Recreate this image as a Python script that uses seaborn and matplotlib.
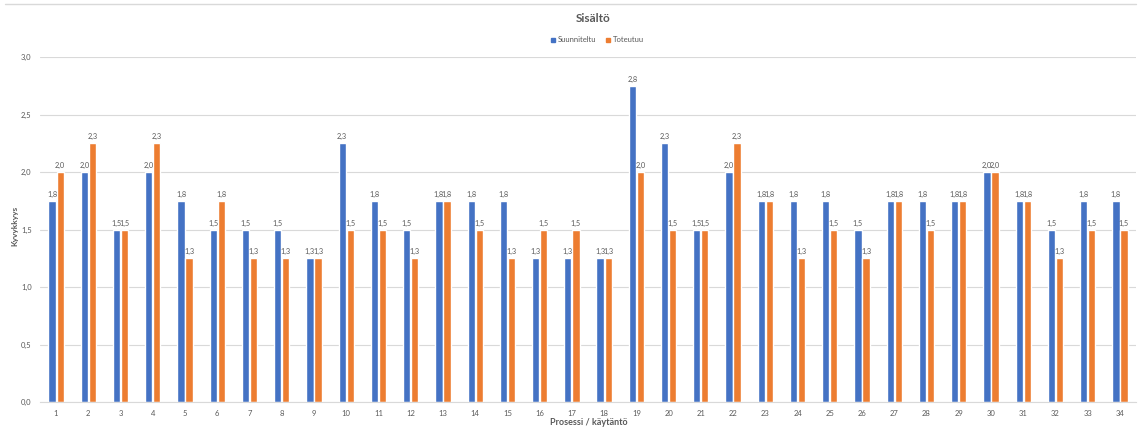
import matplotlib
matplotlib.use("Agg")
import matplotlib.pyplot as plt
from matplotlib.lines import Line2D
from matplotlib.ticker import FuncFormatter
from decimal import Decimal, ROUND_HALF_UP
import seaborn as sns
import pandas as pd

# Process / practice numbers
processes = [str(i) for i in range(1, 35)]

# Planned capability level per process
suunniteltu = [1.75, 2.0, 1.5, 2.0, 1.75, 1.5, 1.5, 1.5, 1.25, 2.25,
               1.75, 1.5, 1.75, 1.75, 1.75, 1.25, 1.25, 1.25, 2.75, 2.25,
               1.5, 2.0, 1.75, 1.75, 1.75, 1.5, 1.75, 1.75, 1.75, 2.0,
               1.75, 1.5, 1.75, 1.75]

# Realised capability level per process
toteutuu = [2.0, 2.25, 1.5, 2.25, 1.25, 1.75, 1.25, 1.25, 1.25, 1.5,
            1.5, 1.25, 1.75, 1.5, 1.25, 1.5, 1.5, 1.25, 2.0, 1.5,
            1.5, 2.25, 1.75, 1.25, 1.5, 1.25, 1.75, 1.5, 1.75, 2.0,
            1.75, 1.25, 1.5, 1.5]

series_names = ["Suunniteltu", "Toteutuu"]
y_ticks = [0.0, 0.5, 1.0, 1.5, 2.0, 2.5, 3.0]

BLUE = "#4472C4"
ORANGE = "#ED7D31"
TEXT = "#595959"
GRID = "#D9D9D9"

df = pd.DataFrame({
    "Prosessi": processes * 2,
    "Arvo": suunniteltu + toteutuu,
    "Sarja": [series_names[0]] * len(processes) + [series_names[1]] * len(processes),
})


def fi_number(v):
    """One decimal, rounded half up, with a decimal comma."""
    d = Decimal(str(v)).quantize(Decimal("0.1"), rounding=ROUND_HALF_UP)
    return str(d).replace(".", ",")


sns.set_theme(style="white")
plt.rcParams["font.family"] = ["Lato", "DejaVu Sans"]

fig = plt.figure(figsize=(11.39, 4.30), dpi=100)
ax = fig.add_axes([0.0351, 0.0651, 0.9623, 0.8023])

sns.barplot(data=df, x="Prosessi", y="Arvo", hue="Sarja", order=processes,
            hue_order=series_names, palette=[BLUE, ORANGE],
            width=0.5, gap=0.1, saturation=1, errorbar=None, ax=ax)

for cont in ax.containers:
    vals = [bar.get_height() for bar in cont]
    ax.bar_label(cont, labels=[fi_number(v) for v in vals], padding=2,
                 fontsize=5.3, color=TEXT)

ax.set_ylim(0, 3.0)
ax.set_xlim(-0.5, len(processes) - 0.5)
ax.set_yticks(y_ticks)
ax.yaxis.set_major_formatter(FuncFormatter(lambda v, p: fi_number(v)))
ax.grid(axis="y", color=GRID, linewidth=0.8)
ax.set_axisbelow(True)
for side in ["top", "right", "left"]:
    ax.spines[side].set_visible(False)
ax.spines["bottom"].set_color(GRID)
ax.spines["bottom"].set_linewidth(0.8)
ax.tick_params(axis="both", length=0, labelsize=5.5, labelcolor=TEXT, pad=6)

ax.set_xlabel("")
ax.set_ylabel("")
fig.text(0.013, 0.475, "Kyvykkyys", rotation=90, ha="center", va="center",
         fontsize=6, fontweight="bold", color=TEXT)
fig.text(0.517, 0.008, "Prosessi / käytäntö", ha="center", va="bottom",
         fontsize=6.5, fontweight="bold", color=TEXT)

fig.text(0.521, 0.956, "Sisältö", ha="center", va="center",
         fontsize=8.5, fontweight="bold", color=TEXT)

ax.legend_.remove()
handles = [Line2D([], [], marker="s", linestyle="", markersize=3.5,
                  markerfacecolor=c, markeredgecolor=c) for c in (BLUE, ORANGE)]
fig.legend(handles, series_names, loc="center", bbox_to_anchor=(0.524, 0.907),
           ncol=2, frameon=False, fontsize=5.5, labelcolor=TEXT,
           handletextpad=0.2, columnspacing=1.2, handlelength=0.8)

# Thin frame line along the top of the chart area
fig.add_artist(Line2D([0.004, 0.997], [0.99, 0.99], color=GRID, linewidth=1.0,
                      transform=fig.transFigure))

fig.savefig("out.png", dpi=100, facecolor="white")
